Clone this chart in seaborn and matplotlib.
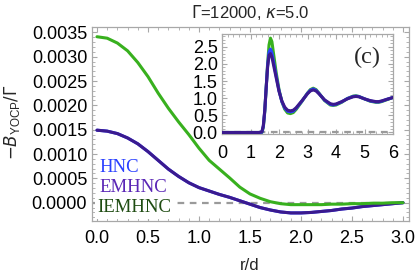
import numpy as np
import pandas as pd
import matplotlib
matplotlib.use("Agg")
import matplotlib.pyplot as plt
import seaborn as sns
from matplotlib.ticker import MultipleLocator, FormatStrFormatter

# main panel: -B_YOCP/Gamma vs r/d
r_main = [0.0, 0.1, 0.2, 0.3, 0.4, 0.5, 0.6, 0.7, 0.8, 0.9, 1.0,
          1.1, 1.2, 1.3, 1.4, 1.5, 1.6, 1.7, 1.8, 1.9, 2.0,
          2.1, 2.2, 2.3, 2.4, 2.5, 2.6, 2.7, 2.8, 2.9, 3.0]
b_iemhnc = [0.00341, 0.00338, 0.00328, 0.00312, 0.00288, 0.00259, 0.00225, 0.00194,
            0.00166, 0.00140, 0.00112, 0.00087, 0.00069, 0.00051, 0.00032, 0.00018,
            0.00009, 0.00002, -0.00002, -0.00004, -0.00004, -0.00004, -0.00004,
            -0.00003, -0.00003, -0.00002, -0.00002, -0.00001, -0.00001, 0.0, 0.0]
b_emhnc = [0.00149, 0.00147, 0.00142, 0.00133, 0.00121, 0.00105, 0.00087, 0.00069,
           0.00054, 0.00041, 0.00031, 0.00024, 0.00017, 0.00011, 0.00004, -0.00003,
           -0.00010, -0.00015, -0.00019, -0.00021, -0.00021, -0.00020, -0.00018,
           -0.00016, -0.00013, -0.00011, -0.00008, -0.00006, -0.00004, -0.00002, 0.0]
b_hnc = b_emhnc  # hidden under EMHNC in the original

# inset: g(r)
r_in = [0.0, 1.3, 1.4, 1.45, 1.5, 1.55, 1.6, 1.65, 1.7, 1.75, 1.8, 1.9, 2.0, 2.1,
        2.2, 2.3, 2.4, 2.5, 2.6, 2.8, 3.0, 3.1, 3.2, 3.3, 3.4, 3.6, 3.8, 3.9,
        4.0, 4.2, 4.4, 4.6, 4.7, 4.8, 5.0, 5.2, 5.4, 5.5, 5.6, 5.8, 6.0]
g_iemhnc = [0, 0, 0.0, 0.15, 0.6, 1.3, 2.0, 2.55, 2.75, 2.65, 2.35, 1.75, 1.25, 0.9,
            0.68, 0.57, 0.55, 0.58, 0.67, 0.9, 1.15, 1.25, 1.29, 1.25, 1.15, 0.93, 0.8,
            0.79, 0.8, 0.88, 0.99, 1.06, 1.07, 1.05, 0.98, 0.91, 0.88, 0.88, 0.9, 0.96, 1.02]
g_hnc = [0, 0, 0.01, 0.18, 0.62, 1.3, 1.95, 2.35, 2.43, 2.33, 2.1, 1.65, 1.22, 0.9,
         0.71, 0.62, 0.6, 0.62, 0.7, 0.91, 1.14, 1.23, 1.27, 1.23, 1.14, 0.94, 0.82,
         0.8, 0.82, 0.89, 0.99, 1.05, 1.06, 1.05, 0.98, 0.92, 0.89, 0.89, 0.91, 0.97, 1.02]
g_emhnc = [0, 0, 0.02, 0.2, 0.65, 1.3, 1.9, 2.25, 2.3, 2.2, 2.0, 1.6, 1.2, 0.92,
           0.74, 0.65, 0.63, 0.65, 0.72, 0.92, 1.13, 1.21, 1.24, 1.21, 1.13, 0.95, 0.84,
           0.82, 0.83, 0.9, 0.98, 1.04, 1.05, 1.04, 0.98, 0.93, 0.9, 0.9, 0.92, 0.97, 1.02]

green = "#38b01e"
purple = "#3b1a8e"
blue = "#2a40ff"

sns.set_style("ticks")
plt.rcParams["font.family"] = ["Liberation Sans", "DejaVu Sans"]
plt.rcParams["mathtext.fontset"] = "dejavusans"

W, H = 415, 274
fig = plt.figure(figsize=(W / 100, H / 100), dpi=100)

def style_frame(ax, xmaj, xmin, ymaj, ymin, xpad, ypad):
    for s in ax.spines.values():
        s.set_color("#a8a8a8")
        s.set_linewidth(0.9)
    ax.xaxis.set_major_locator(MultipleLocator(xmaj))
    ax.xaxis.set_minor_locator(MultipleLocator(xmin))
    ax.yaxis.set_major_locator(MultipleLocator(ymaj))
    ax.yaxis.set_minor_locator(MultipleLocator(ymin))
    ax.tick_params(which="both", direction="in", top=True, right=True,
                   color="#a8a8a8", labelsize=13, labelcolor="black")
    ax.tick_params(which="major", length=3.5, width=0.8)
    ax.tick_params(which="minor", length=2, width=0.6)
    ax.tick_params(axis="x", pad=xpad)
    ax.tick_params(axis="y", pad=ypad)

ax = fig.add_axes([92 / W, 1 - 221 / H, (409 - 92) / W, (221 - 27) / H])
main = pd.DataFrame({"r": r_main, "HNC": b_hnc, "EMHNC": b_emhnc, "IEMHNC": b_iemhnc})
ax.axhline(0, color="#9a9a9a", lw=1.6, ls=(0, (3, 2.5)), zorder=1)
sns.lineplot(data=main, x="r", y="HNC", color=blue, lw=2.2, ax=ax, zorder=2)
sns.lineplot(data=main, x="r", y="EMHNC", color=purple, lw=2.2, ax=ax, zorder=3)
sns.lineplot(data=main, x="r", y="IEMHNC", color=green, lw=2.2, ax=ax, zorder=4)
ax.set_xlim(-0.049, 3.059)
ax.set_ylim(-0.000376, 0.00361)
style_frame(ax, 0.5, 0.1, 0.0005, 0.0001, 6.5, 3.5)
ax.yaxis.set_major_formatter(FormatStrFormatter("%.4f"))
ax.xaxis.set_major_formatter(FormatStrFormatter("%.1f"))
ax.set_xlabel("")
ax.set_ylabel("")

fig.text(250 / W, 1 - 12 / H, r"$\Gamma$=12000, $\kappa$=5.0", ha="center", va="center", fontsize=12)
fig.text(250 / W, 1 - 265 / H, "r/d", ha="center", va="center", fontsize=12)
fig.text(12 / W, 1 - 122 / H, r"$-B_{\mathregular{YOCP}}/\Gamma$", rotation=90,
         ha="center", va="center", fontsize=12)

serif = ["Liberation Serif", "DejaVu Serif"]
box = dict(facecolor="white", edgecolor="none", pad=1.5)
fig.text(99 / W, 1 - 167 / H, "HNC", color="#2a40ff", family=serif, fontsize=13.5, va="center")
fig.text(99 / W, 1 - 187 / H, "EMHNC", color="#5a26b6", family=serif, fontsize=13.5, va="center")
fig.text(97 / W, 1 - 208 / H, "IEMHNC", color="#1f4c12", family=serif, fontsize=13.5,
         va="center", bbox=box)

# inset
axi = fig.add_axes([222 / W, 1 - 134 / H, (393 - 222) / W, (134 - 34) / H])
inset = pd.DataFrame({"r": r_in, "HNC": g_hnc, "EMHNC": g_emhnc, "IEMHNC": g_iemhnc})
axi.axhline(0, color="#9a9a9a", lw=1.6, ls=(0, (3, 2.5)), zorder=1)
sns.lineplot(data=inset, x="r", y="IEMHNC", color=green, lw=2.2, ax=axi, zorder=2)
sns.lineplot(data=inset, x="r", y="HNC", color=blue, lw=2.2, ax=axi, zorder=3)
sns.lineplot(data=inset, x="r", y="EMHNC", color=purple, lw=2.2, ax=axi, zorder=4)
axi.set_xlim(0, 6)
axi.set_ylim(-0.044, 2.87)
style_frame(axi, 1, 0.2, 0.5, 0.1, 8, 3)
axi.yaxis.set_major_formatter(FormatStrFormatter("%.1f"))
axi.set_xlabel("")
axi.set_ylabel("")
axi.text(0.85, 0.77, "(c)", transform=axi.transAxes, family=serif, fontsize=17.5,
         ha="center", va="center")

fig.savefig("out.png", dpi=100)
